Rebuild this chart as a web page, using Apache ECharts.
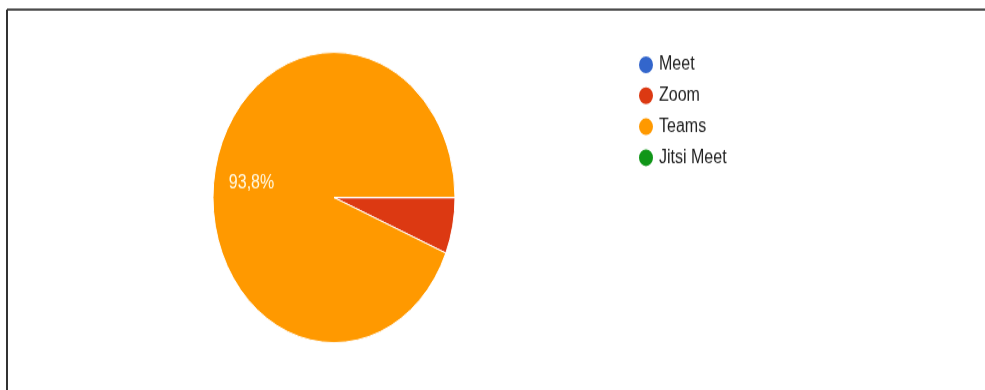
<!DOCTYPE html>
<html>
<head>
<meta charset="utf-8">
<script src="https://cdn.jsdelivr.net/npm/echarts@6/dist/echarts.min.js"></script>
<style>
  html, body { margin: 0; padding: 0; background: #fff; }
  #wrap { width: 985px; height: 390px; overflow: hidden; }
  /* the source picture is stretched vertically, so draw flat and stretch */
  #main { width: 985px; height: 325px; transform: scaleY(1.2); transform-origin: 0 0; }
</style>
</head>
<body>
<div id="wrap"><div id="main"></div></div>
<script>
const platforms = ['Meet', 'Zoom', 'Teams', 'Jitsi Meet'];
const answers = [0, 1, 15, 0];
const colors = ['#3366cc', '#dc3912', '#ff9900', '#109618'];

const radius = 121;
const startAngle = 0;
const total = answers.reduce((a, b) => a + b, 0);

// Google-style labels sit further out than the middle of the radius
let cum = 0;
const pieData = platforms.map((name, i) => {
    const v = answers[i];
    const mid = (startAngle - (cum + v / 2) / total * 360) * Math.PI / 180;
    cum += v;
    const pull = radius * 0.17;
    const share = total ? v / total : 0;
    return {
        name: name,
        value: v,
        itemStyle: { color: colors[i] },
        label: {
            show: share >= 0.1,
            offset: [Math.cos(mid) * pull, -Math.sin(mid) * pull + 4]
        }
    };
});

const myChart = echarts.init(document.getElementById('main'));
const option = {
    animation: false,
    textStyle: { fontFamily: 'Liberation Sans, Arial, sans-serif' },
    graphic: [
        { type: 'line', shape: { x1: 7, y1: 8, x2: 985, y2: 8 }, style: { stroke: '#111', lineWidth: 1.5 } },
        { type: 'line', shape: { x1: 7, y1: 8, x2: 7, y2: 325 }, style: { stroke: '#333', lineWidth: 2 } }
    ],
    legend: {
        orient: 'vertical',
        left: 632,
        top: 40,
        icon: 'circle',
        itemWidth: 16,
        itemHeight: 16,
        itemGap: 7.8,
        selectedMode: false,
        textStyle: { fontSize: 16, lineHeight: 16, color: '#222' },
        data: platforms
    },
    series: [
        {
            type: 'pie',
            center: [334, 164.6],
            radius: radius,
            startAngle: startAngle,
            clockwise: true,
            avoidLabelOverlap: false,
            itemStyle: { borderColor: '#fff', borderWidth: 1 },
            label: {
                position: 'inside',
                color: '#fffbe6',
                fontSize: 16,
                formatter: p => p.percent.toFixed(1).replace('.', ',') + '%'
            },
            labelLine: { show: false },
            emphasis: { disabled: true },
            data: pieData
        }
    ]
};
myChart.setOption(option);
</script>
</body>
</html>
